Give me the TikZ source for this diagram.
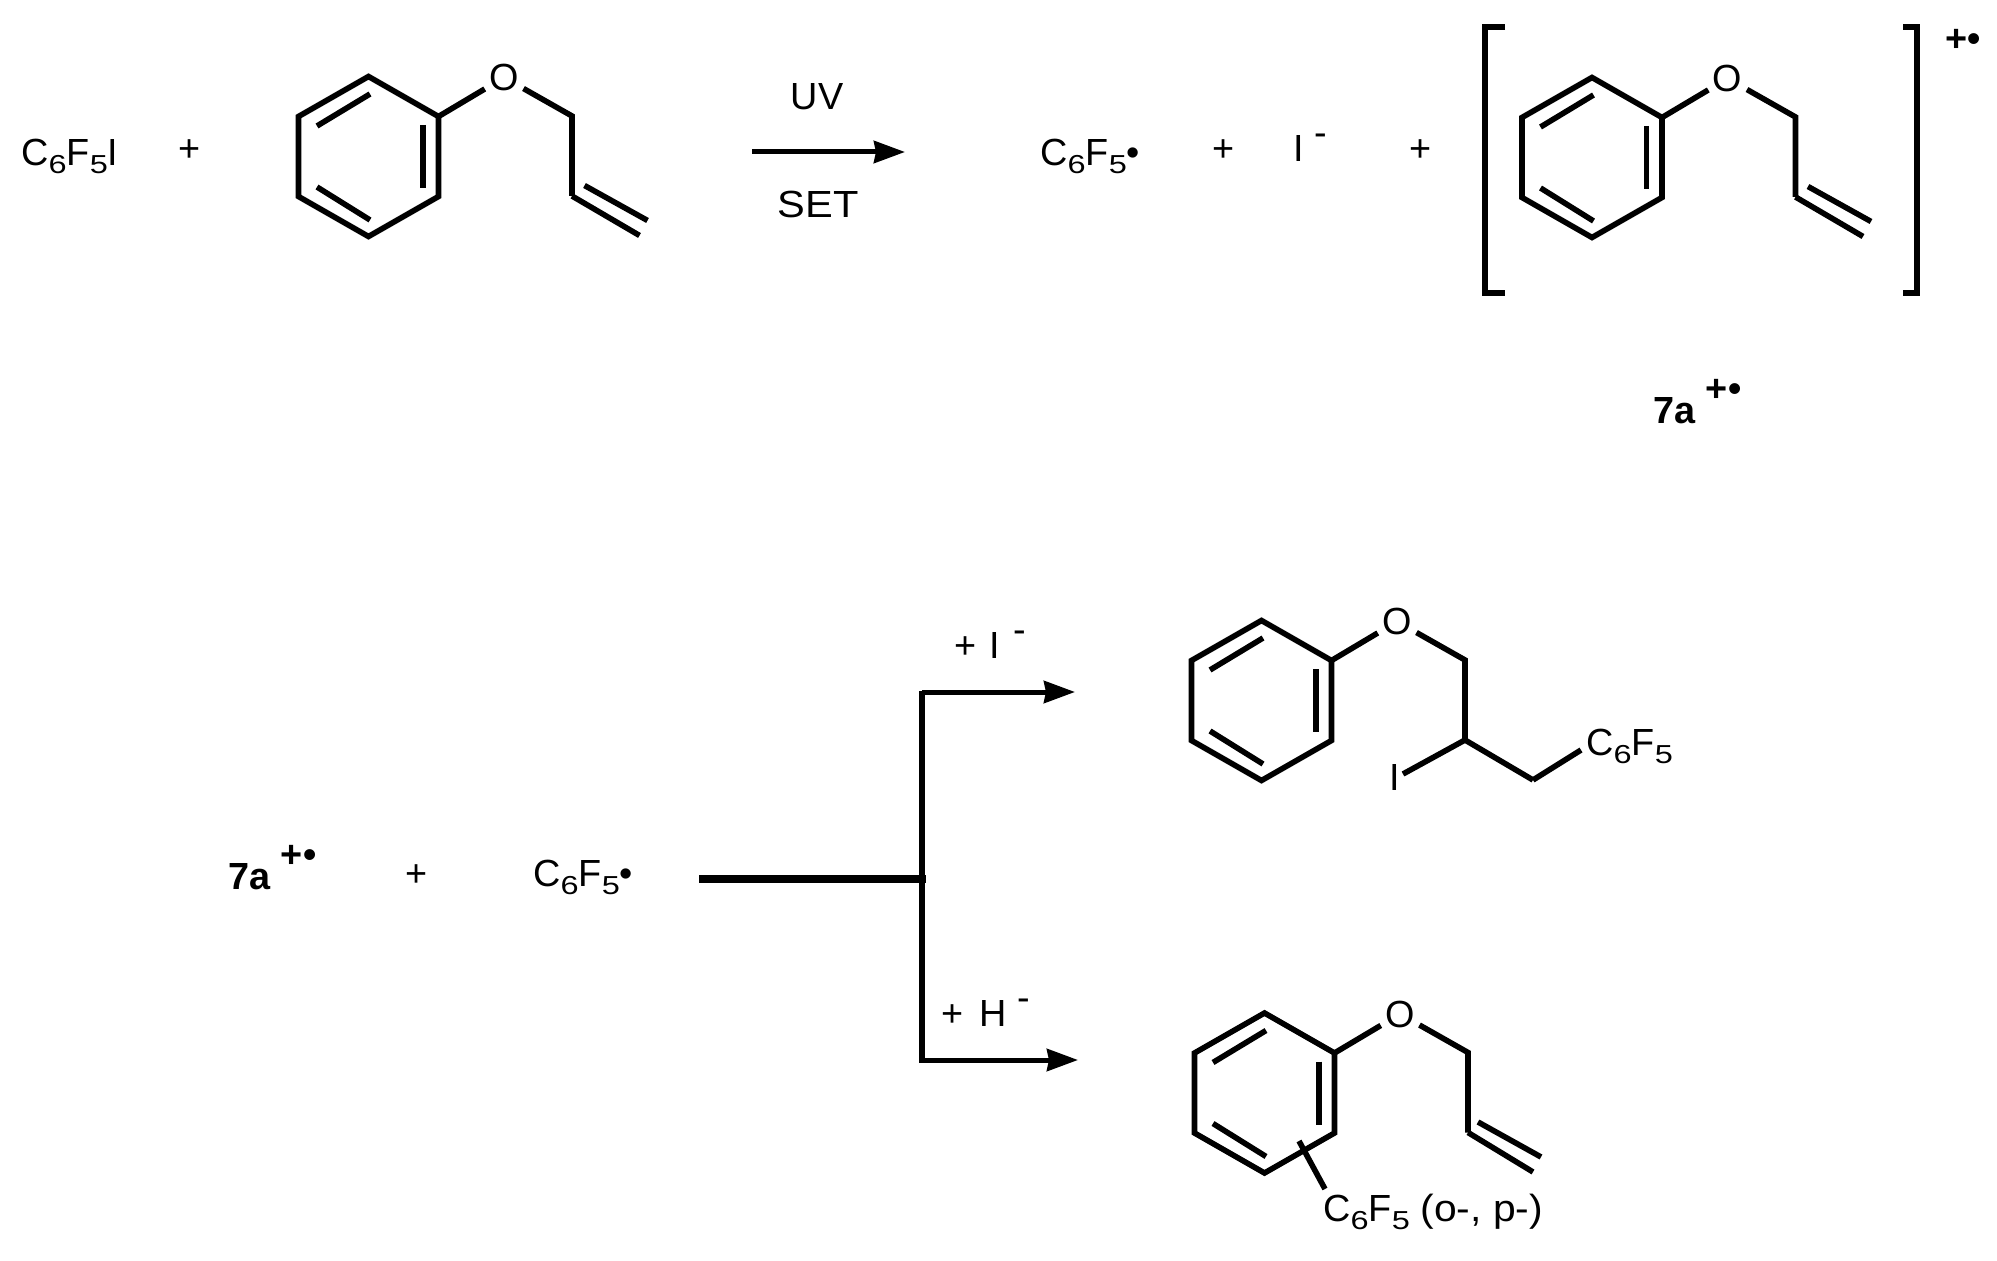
\documentclass[tikz,border=0pt]{standalone}
\usepackage{fontspec}
\usepackage{graphicx}
\setmainfont{Liberation Sans}
\usetikzlibrary{arrows.meta}
\newcommand{\lowdig}[1]{\raisebox{-4pt}{\scalebox{1.25}[1]{\fontsize{13}{13}\selectfont #1}}}
\newcommand{\CFive}{C\lowdig{6}F\lowdig{5}}
\newcommand{\up}[1]{\raisebox{8pt}{#1}}
\newcommand{\radcat}{\raisebox{11pt}{+•}}
% ring + ether oxygen + first chain carbon; #3 is the name prefix
\newcommand{\phenoxy}[3]{%
  \begin{scope}[shift={(#1,#2)}]
    \coordinate (#3a) at (0,-80);
    \coordinate (#3b) at (70,-40);
    \coordinate (#3c) at (70,40);
    \coordinate (#3d) at (0,80);
    \coordinate (#3e) at (-70,40);
    \coordinate (#3f) at (-70,-40);
    \coordinate (#3g) at (203.5,-40.5);
    \coordinate (#3h) at (203.5,39.5);
    \coordinate (#3p) at (54.5,-31.5);
    \coordinate (#3q) at (54.5,31.5);
    \coordinate (#3r) at (-51.5,-30.5);
    \coordinate (#3s) at (1.5,-62.5);
    \coordinate (#3t) at (-51.5,30.5);
    \coordinate (#3u) at (1.5,63.5);
    \node[atom] (#3O) at (135.5,-79) {O};
    \draw[bond] (#3a) -- (#3b) -- (#3c) -- (#3d) -- (#3e) -- (#3f) -- cycle;
    \draw[bond] (#3p) -- (#3q);
    \draw[bond] (#3r) -- (#3s);
    \draw[bond] (#3t) -- (#3u);
    \draw[bond] (#3b) -- (#3O);
    \draw[bond] (#3O) -- (#3g) -- (#3h);
  \end{scope}}
% terminal vinyl group
\newcommand{\vinyl}[3]{%
  \begin{scope}[shift={(#1,#2)}]
    \coordinate (#3i) at (271,79);
    \coordinate (#3j) at (216,29);
    \coordinate (#3k) at (279,64);
    \draw[bond] (#3h) -- (#3i);
    \draw[bond] (#3j) -- (#3k);
  \end{scope}}
\begin{document}
\begin{tikzpicture}[x=0.5pt,y=-0.5pt,
  txt/.style={anchor=base west,inner sep=0pt,font=\fontsize{18.9}{22}\selectfont,text=black},
  ctxt/.style={anchor=center,inner sep=0pt,font=\fontsize{18.9}{22}\selectfont,text=black},
  boldtxt/.style={txt,font=\fontsize{18.9}{22}\selectfont\bfseries},
  atom/.style={circle,inner sep=0pt,minimum size=22pt,font=\fontsize{18.9}{22}\selectfont},
  bond/.style={draw=black,line width=2.8pt,line join=miter},
  brk/.style={draw=black,line width=2.6pt},
  rxn/.style={draw=black,line width=2.5pt,-{Stealth[length=15.5pt,width=11pt,inset=1pt]}},
  trunk/.style={draw=black,line width=2.6pt},
  thick bar/.style={draw=black,line width=4.2pt}]
\useasboundingbox (0,0) rectangle (1997,1261);

% first line
\node[txt] (t1) at (21,166) {\CFive I};
\node[ctxt] (p1) at (190,151) {+};
\phenoxy{368.5}{156.5}{m}
\vinyl{368.5}{156.5}{m}
\coordinate (a1s) at (752,152);
\coordinate (a1e) at (905,152);
\draw[rxn] (a1s) -- (a1e);
\node[ctxt] (uv) at (817,97) {UV};
\node[ctxt] (set) at (818,204) {\scalebox{1.1}[1]{SET}};
\node[txt] (t2) at (1040,166) {\CFive•};
\node[ctxt] (p2) at (1224,151) {+};
\node[txt] (t3) at (1293,162) {I \up{-}};
\node[ctxt] (p3) at (1421,151) {+};
\phenoxy{1592}{157.5}{n}
\vinyl{1592}{157.5}{n}
\coordinate (bl1) at (1505,27);
\coordinate (bl2) at (1485,27);
\coordinate (bl3) at (1485,293);
\coordinate (bl4) at (1505,293);
\draw[brk] (bl1) -- (bl2) -- (bl3) -- (bl4);
\coordinate (br1) at (1903,27);
\coordinate (br2) at (1917,27);
\coordinate (br3) at (1917,293);
\coordinate (br4) at (1903,293);
\draw[brk] (br1) -- (br2) -- (br3) -- (br4);
\node[boldtxt] (c1) at (1945,52) {+•};
\node[boldtxt] (s1) at (1653,424) {7a \radcat};

% second line
\node[boldtxt] (s2) at (228,889) {7a \radcat};
\node[ctxt] (p4) at (417,876) {+};
\node[txt] (t4) at (533,886) {\CFive•};
\coordinate (jl) at (699,879);
\coordinate (jm) at (926,879);
\coordinate (jt) at (922,691);
\coordinate (jb) at (922,1063);
\coordinate (u1) at (922,692);
\coordinate (u2) at (1075,692);
\coordinate (v1) at (922,1060);
\coordinate (v2) at (1078,1060);
\draw[thick bar] (jl) -- (jm);
\draw[trunk] (jt) -- (jb);
\draw[rxn] (u1) -- (u2);
\draw[rxn] (v1) -- (v2);
\node[txt] (l1) at (954,658) {+\hspace{1.5pt} I\hspace{1.5pt} \up{-}};
\node[txt] (l2) at (941,1026) {+\hspace{3pt} H \up{-}};

% upper product
\phenoxy{1261.5}{700.5}{x}
\coordinate (x1) at (1533,780);
\node[txt] (x2) at (1586,755) {\CFive};
\node[ctxt] (x3) at (1395,777) {I};
\draw[bond] (xh) -- (x1);
\draw[bond] (x1) -- (1581,750);
\draw[bond] (xh) -- (1403,774);

% lower product
\phenoxy{1264.5}{1093}{y}
\vinyl{1262}{1093}{y}
\node[txt] (y2) at (1323,1221) {\CFive{} \scalebox{1.08}[1]{(o-, p-)}};
\coordinate (y3) at (1299,1141);
\coordinate (y4) at (1325,1189);
\draw[bond] (y3) -- (y4);
\end{tikzpicture}
\end{document}
